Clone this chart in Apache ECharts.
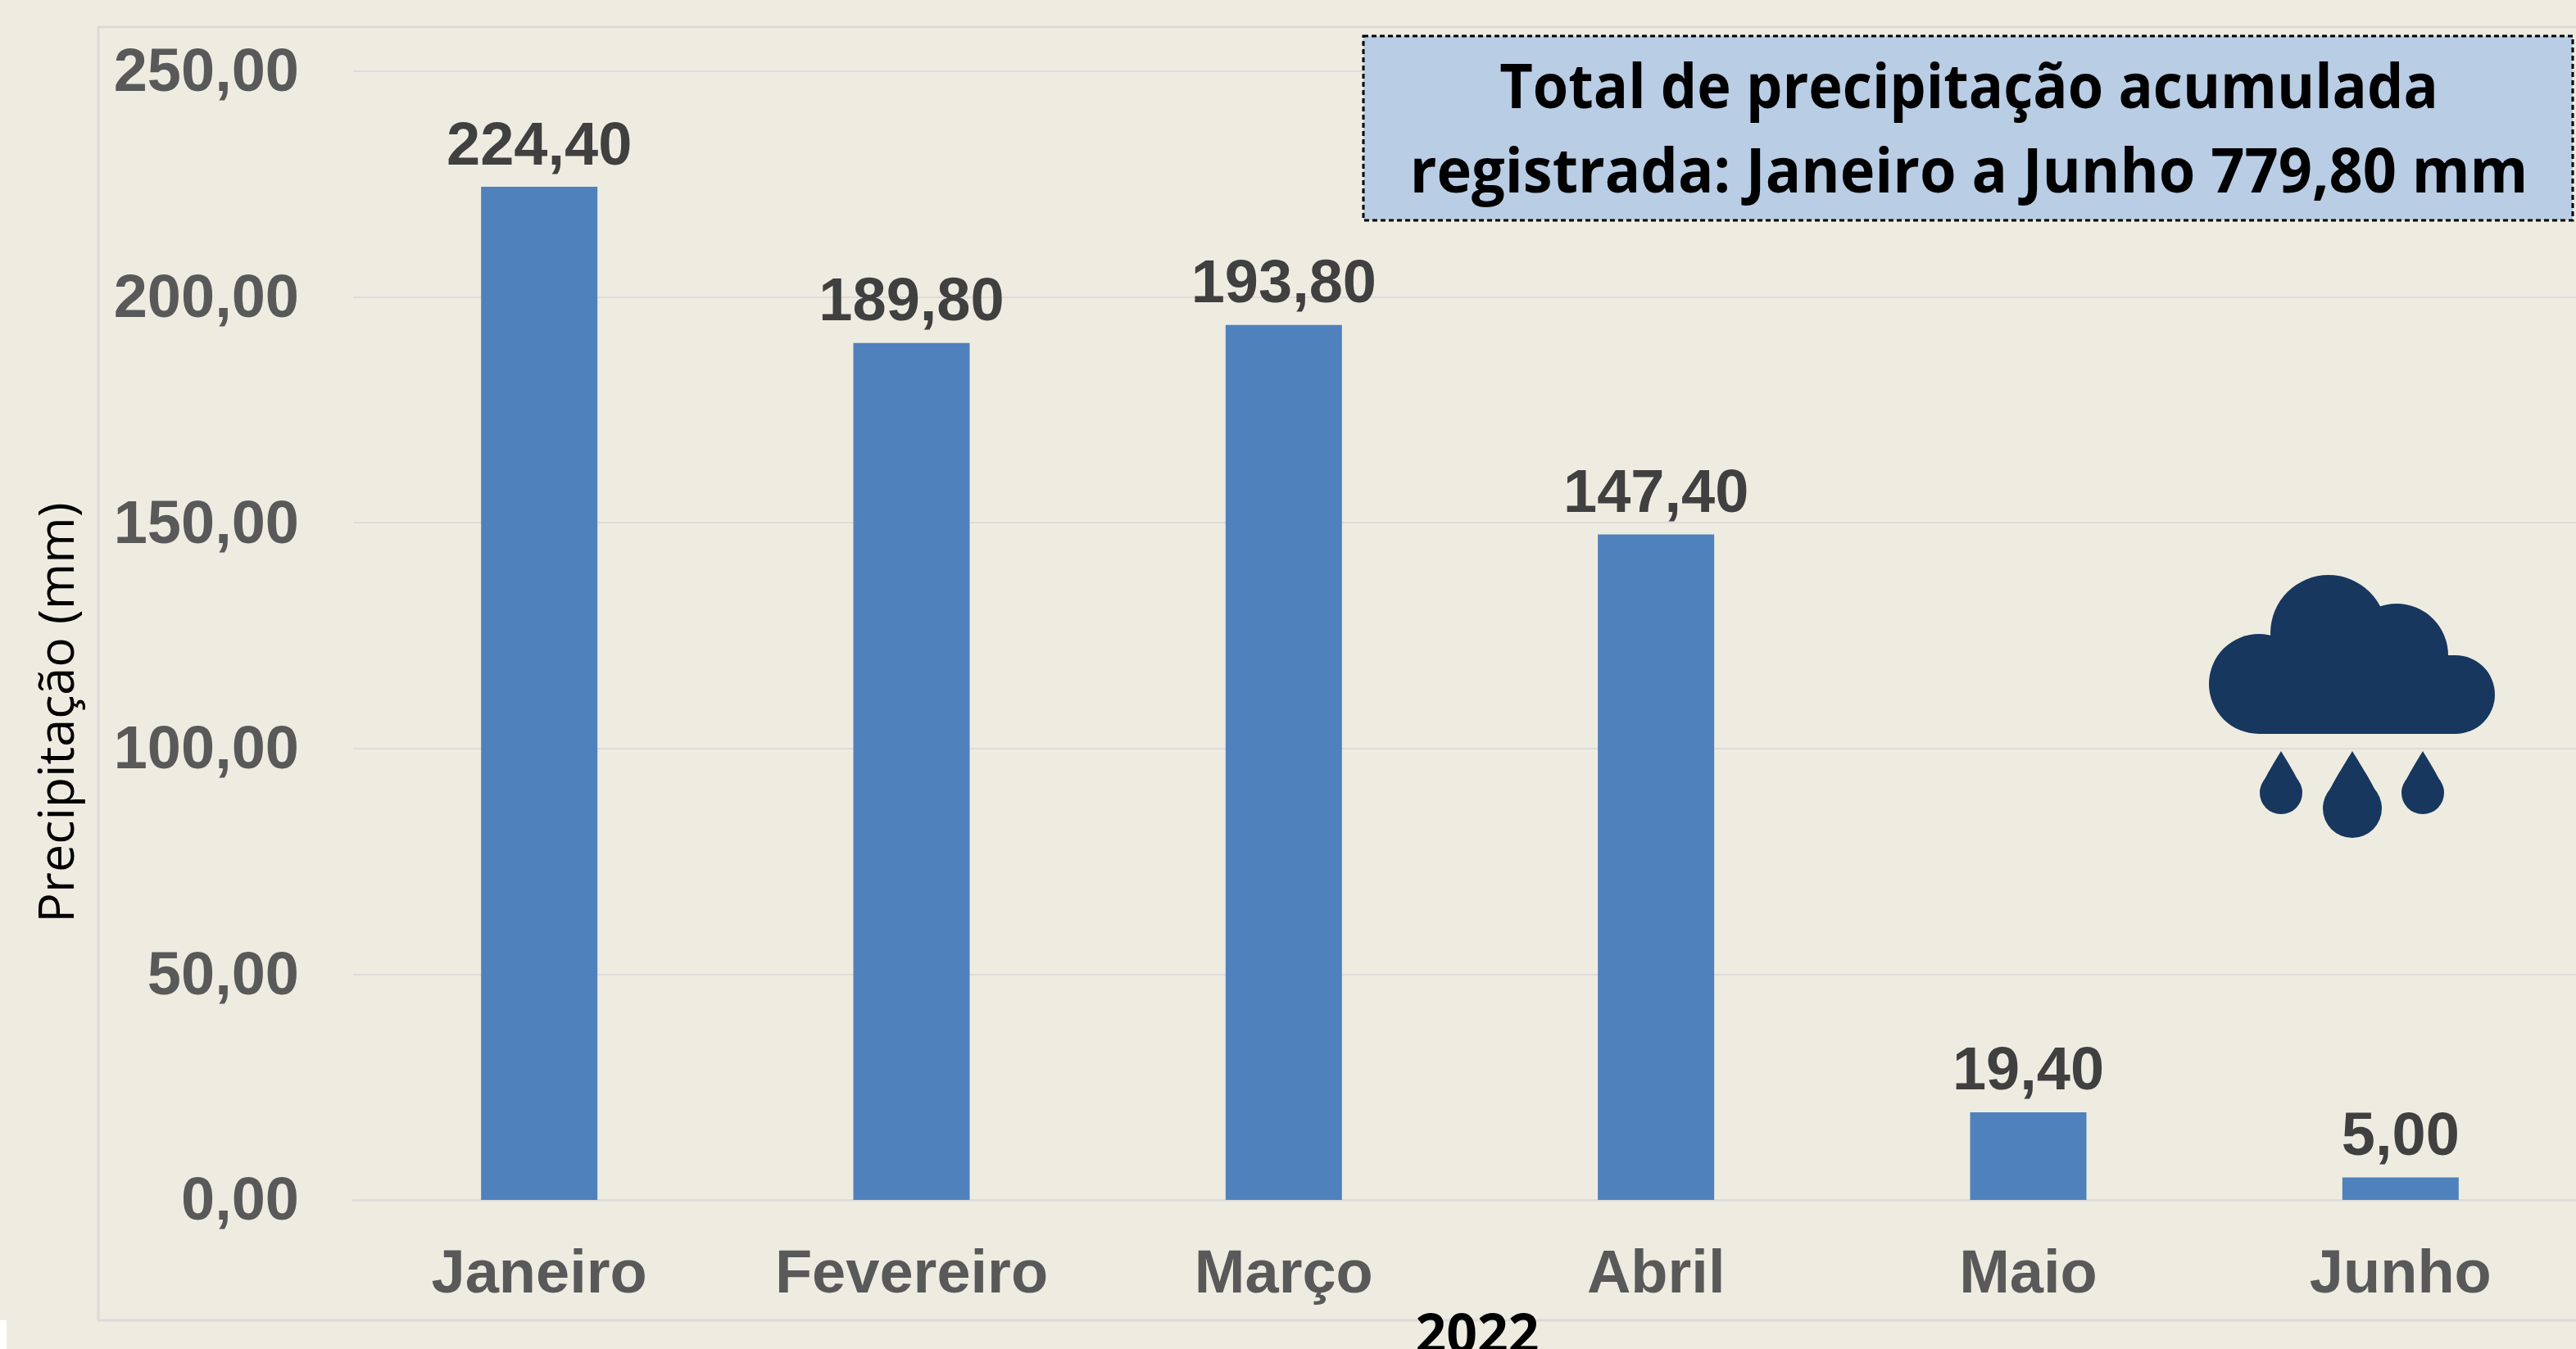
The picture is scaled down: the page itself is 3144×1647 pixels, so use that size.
<!DOCTYPE html>
<html><head><meta charset="utf-8">
<style>html,body{margin:0;padding:0;background:#EEECE1}#c{width:3144px;height:1647px}</style>
<script src="https://cdn.jsdelivr.net/npm/echarts@6/dist/echarts.min.js"></script>
</head><body><div id="c"></div>
<script>
const categories = ['Janeiro','Fevereiro','Março','Abril','Maio','Junho'];
const precipitation = [224.40,189.80,193.80,147.40,19.40,5.00];
const yAxisName = 'Precipitação (mm)';
const xAxisName = '2022';
const boxLines = ['Total de precipitação acumulada','registrada: Janeiro a Junho 779,80 mm'];
const comma = v => v.toFixed(2).replace('.',',');
const ICON='#17375E', GRID='#DCDCDC', SANS='"Liberation Sans",Arial,sans-serif';
const solid={fill:ICON,stroke:ICON,lineWidth:0};
function drop(cx,ty,cy,r){
  const pts=[];
  const bez=(a,b,c,d,t)=>(1-t)**3*a+3*(1-t)**2*t*b+3*(1-t)*t*t*c+t**3*d;
  for(let i=0;i<=24;i++){const t=i/24;pts.push([cx+bez(0,r*0.35,r*0.95,r,t),bez(ty,ty+(cy-ty)*0.3,cy-r*0.45,cy,t)]);}
  for(let i=24;i>=0;i--){const t=i/24;pts.push([cx-bez(0,r*0.35,r*0.95,r,t),bez(ty,ty+(cy-ty)*0.3,cy-r*0.45,cy,t)]);}
  return [{type:'circle',shape:{cx,cy,r},style:solid},{type:'polygon',shape:{points:pts},style:solid}];
}
const circ=(cx,cy,r)=>({type:'circle',shape:{cx,cy,r},style:solid});
const chart = echarts.init(document.getElementById('c'),null,{renderer:'canvas'});
chart.setOption({
  animation:false,
  backgroundColor:'#EEECE1',
  grid:{left:431,top:87,width:2726,height:1378,outerBoundsMode:'none',containLabel:false},
  xAxis:{type:'category',data:categories,
    name:xAxisName,nameLocation:'middle',nameGap:117,
    nameTextStyle:{fontFamily:'"Open Sans"',fontWeight:'bold',fontSize:66,color:'#000',padding:[0,0,0,18]},
    axisTick:{show:false},axisLine:{lineStyle:{color:GRID,width:3}},
    axisLabel:{margin:56,fontFamily:SANS,fontWeight:'bold',fontSize:74,color:'#595959'}},
  yAxis:{type:'value',min:0,max:250,interval:50,
    name:yAxisName,nameLocation:'middle',nameGap:328,
    nameTextStyle:{fontFamily:'"Open Sans"',fontSize:61,color:'#000',padding:[0,188,0,0]},
    axisLine:{show:false},axisTick:{show:false},
    splitLine:{lineStyle:{color:GRID,width:2}},
    axisLabel:{margin:66,formatter:v=>`{a|${comma(v)}}`,
      rich:{a:{fontFamily:SANS,fontWeight:'bold',fontSize:74,color:'#595959',padding:[8,0,0,0]}}}},
  series:[{type:'bar',data:precipitation,barWidth:142,
    itemStyle:{color:'#4F81BD'},
    label:{show:true,position:'top',distance:11,fontFamily:SANS,fontWeight:'bold',fontSize:74,color:'#404040',formatter:p=>comma(p.value)}}],
  graphic:[
    {type:'rect',z:-1,shape:{x:120,y:33,width:3100,height:1579},style:{fill:'none',stroke:'#DADADA',lineWidth:3}},
    {type:'rect',shape:{x:0,y:1612,width:8,height:35},style:{fill:'#fff'}},
    {type:'rect',z:10,shape:{x:1664,y:44,width:1476,height:225},style:{fill:'#B9CDE5',stroke:'#000',lineWidth:3,lineDash:[6,4]}},
    {type:'group',x:2403,y:110,scaleX:0.924,children:[{type:'text',z:11,style:{text:boxLines[0],x:0,y:0,align:'center',verticalAlign:'middle',font:'bold 76px "Open Sans"',fill:'#000'}}]},
    {type:'group',x:2403,y:213,scaleX:0.949,children:[{type:'text',z:11,style:{text:boxLines[1],x:0,y:0,align:'center',verticalAlign:'middle',font:'bold 76px "Open Sans"',fill:'#000'}}]},
    {type:'group',children:[
      circ(2757,835,61),circ(2842,773,71),circ(2925,800,63),circ(2997,848,48),
      {type:'rect',shape:{x:2757,y:800,width:240,height:96},style:solid},
      ...drop(2784,917,968,26),...drop(2871,917,987,36),...drop(2957,917,968,26)
    ].map(e=>Object.assign(e,{z:11}))}
  ]
});
</script></body></html>
